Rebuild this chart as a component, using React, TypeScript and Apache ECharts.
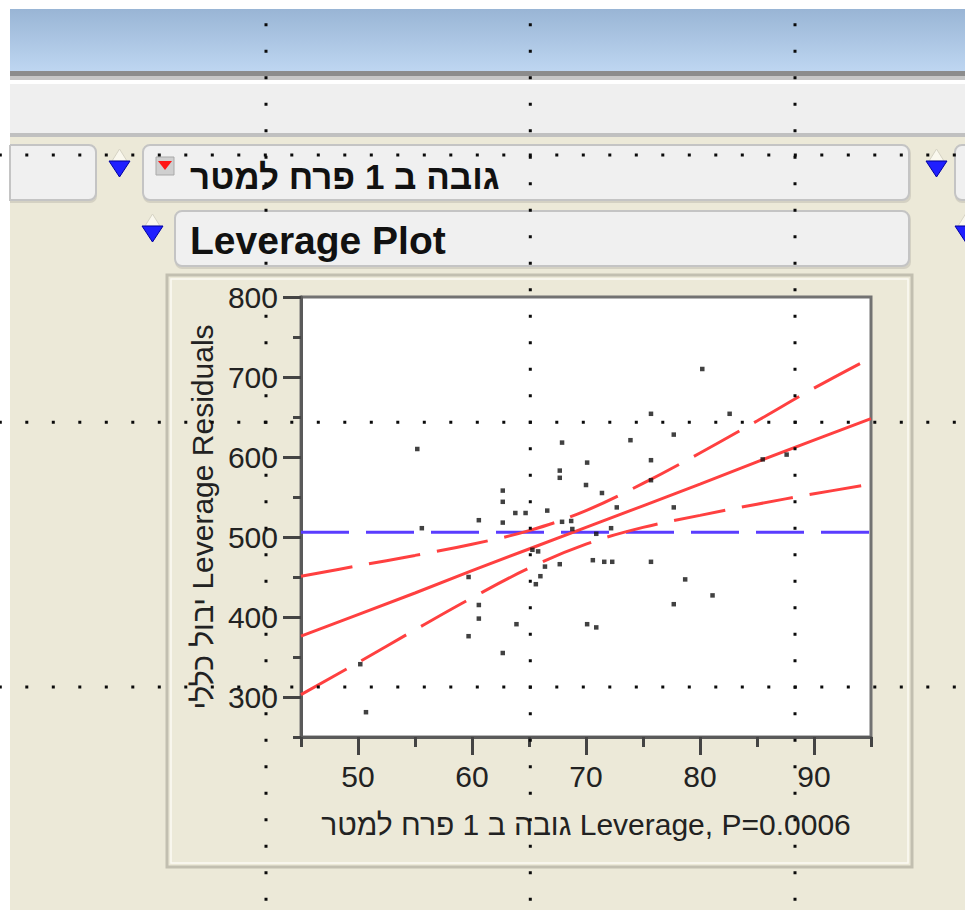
import React, { useEffect, useRef } from 'react';
import * as echarts from 'echarts';

// ---- data ----
const POINT_X = [55.2, 55.6, 50.2, 50.7, 59.7, 59.7, 60.6, 60.6, 60.6, 62.7, 62.7, 62.7, 62.7, 63.8, 63.9, 64.7, 65.3, 65.8, 65.6, 66.0, 66.4, 66.6, 67.7, 67.7, 67.7, 67.9, 67.9, 68.7, 68.8, 70.0, 70.1, 70.1, 70.9, 70.6, 70.9, 71.4, 71.6, 72.3, 72.2, 72.7, 73.9, 75.7, 75.7, 75.7, 75.7, 77.7, 77.7, 77.7, 78.7, 80.2, 81.1, 82.6, 85.5, 87.6];
const POINT_Y = [610, 511, 341, 281, 450, 376, 521, 415, 398, 558, 544, 518, 355, 530, 391, 530, 484, 482, 441, 451, 463, 533, 466, 583, 574, 618, 519, 520, 510, 565, 593, 391, 387, 471, 504, 555, 469, 469, 511, 537, 621, 654, 596, 571, 469, 628, 537, 416, 447, 710, 427, 654, 597, 603];

const CURVE_X = [45, 50, 55, 60, 65, 70, 75, 80, 85, 90, 95];
const FIT_Y = [376, 403, 430, 458, 485, 512, 539, 566, 594, 621, 648];
const UPPER_Y = [451, 464, 477, 491, 508, 533, 567, 605, 645, 686, 724];
const LOWER_Y = [303, 343, 384, 424, 461, 491, 512, 527, 541, 554, 566];
const MEAN_X = [45, 95];
const MEAN_Y = [506, 506];

const X_MAJOR = [50, 60, 70, 80, 90];
const X_MINOR = [45, 55, 65, 75, 85, 95];
const Y_MAJOR = [300, 400, 500, 600, 700, 800];
const Y_MINOR = [250, 350, 450, 550, 650, 750];

const HEADER_TITLE = 'גובה ב 1 פרח למטר';
const PLOT_TITLE = 'Leverage Plot';
const X_TITLE = 'גובה ב 1 פרח למטר Leverage, P=0.0006';
const Y_TITLE = 'יבול כללי Leverage Residuals';

const FONT = '"Liberation Sans", Arial, sans-serif';

const pairs = (xs: number[], ys: number[]) => xs.map((x, i) => [x, ys[i]]);

function tri(cx: number, top: number, w: number, h: number, z = 5) {
  return [
    {
      type: 'polygon', z,
      shape: { points: [[cx - w / 2 + 3, top], [cx + w / 2 - 3, top], [cx, top - 12]] },
      style: { fill: '#faf8ee', stroke: '#d6d3c4', lineWidth: 1 },
    },
    {
      type: 'polygon', z: z + 1,
      shape: { points: [[cx - w / 2, top], [cx + w / 2, top], [cx, top + h]] },
      style: { fill: '#1f1fff', stroke: '#0000a0', lineWidth: 1 },
    },
  ];
}

function dotted(): any[] {
  const els: any[] = [];
  const step = 26.5;
  const style = { stroke: '#0a0a0a', lineWidth: 3, lineDash: [3, step - 3] };
  [266, 530.3, 795].forEach((x) => {
    const y0 = 422.3 - 1.5 - step * 16;
    els.push({ type: 'line', z: 200, shape: { x1: x, y1: y0, x2: x, y2: 916 }, style });
  });
  [155, 422.3, 687].forEach((y) => {
    const x0 = 530.3 - 1.5 - step * 20;
    els.push({ type: 'line', z: 200, shape: { x1: x0, y1: y, x2: 965, y2: y }, style });
  });
  return els;
}

export default function App() {
  const ref = useRef<HTMLDivElement>(null);
  useEffect(() => {
    document.body.style.margin = '0';
    const chart = echarts.init(ref.current!, null, { renderer: 'svg' });
    const bg: any[] = [
      { type: 'rect', z: -20, shape: { x: 0, y: 0, width: 965, height: 916 }, style: { fill: '#ffffff' } },
      {
        type: 'rect', z: -19, shape: { x: 10, y: 9, width: 955, height: 62 },
        style: { fill: { type: 'linear', x: 0, y: 0, x2: 0, y2: 1, colorStops: [{ offset: 0, color: '#99b5d5' }, { offset: 1, color: '#bed6f1' }] } },
      },
      { type: 'rect', z: -19, shape: { x: 10, y: 71, width: 955, height: 5 }, style: { fill: '#8c8c8c' } },
      { type: 'rect', z: -19, shape: { x: 10, y: 76, width: 955, height: 4 }, style: { fill: '#c6c6c6' } },
      { type: 'rect', z: -19, shape: { x: 10, y: 80, width: 955, height: 4 }, style: { fill: '#ffffff' } },
      { type: 'rect', z: -19, shape: { x: 10, y: 84, width: 955, height: 49 }, style: { fill: '#efefef' } },
      { type: 'rect', z: -19, shape: { x: 10, y: 133, width: 955, height: 4 }, style: { fill: '#c0c0c0' } },
      { type: 'rect', z: -19, shape: { x: 10, y: 137, width: 955, height: 773 }, style: { fill: '#ece9d8' } },
      // header boxes
      { type: 'rect', z: -15, shape: { x: 10, y: 146, width: 87, height: 57, r: [0, 7, 7, 0] }, style: { fill: '#d4d1c3' } },
      { type: 'rect', z: -14, shape: { x: 10, y: 145, width: 86, height: 55, r: [0, 7, 7, 0] }, style: { fill: '#f0f0f0', stroke: '#c4c4c4', lineWidth: 2 } },
      { type: 'rect', z: -15, shape: { x: 143, y: 146, width: 768, height: 57, r: 7 }, style: { fill: '#d4d1c3' } },
      { type: 'rect', z: -14, shape: { x: 143, y: 145, width: 766, height: 55, r: 7 }, style: { fill: '#f0f0f0', stroke: '#c4c4c4', lineWidth: 2 } },
      { type: 'rect', z: -15, shape: { x: 955, y: 146, width: 30, height: 57, r: 7 }, style: { fill: '#d4d1c3' } },
      { type: 'rect', z: -14, shape: { x: 955, y: 145, width: 30, height: 55, r: 7 }, style: { fill: '#f0f0f0', stroke: '#c4c4c4', lineWidth: 2 } },
      { type: 'rect', z: -15, shape: { x: 175, y: 212, width: 736, height: 57, r: 7 }, style: { fill: '#d4d1c3' } },
      { type: 'rect', z: -14, shape: { x: 175, y: 211, width: 734, height: 55, r: 7 }, style: { fill: '#f0f0f0', stroke: '#c4c4c4', lineWidth: 2 } },
      // red menu icon
      { type: 'rect', z: -10, shape: { x: 156, y: 157, width: 18, height: 18 }, style: { fill: '#cfcfcf', stroke: '#a9a9a9', lineWidth: 1 } },
      { type: 'polygon', z: -9, shape: { points: [[158, 161], [172, 161], [165, 170]] }, style: { fill: '#ff1515' } },
      // titles
      {
        type: 'text', z: -8, x: 190, y: 176,
        style: { text: HEADER_TITLE, fill: '#111', fontSize: 35, fontWeight: 'bold', fontFamily: FONT, align: 'left', verticalAlign: 'middle' },
      },
      {
        type: 'text', z: -8, x: 190, y: 240,
        style: { text: PLOT_TITLE, fill: '#111', fontSize: 39, fontWeight: 'bold', fontFamily: FONT, align: 'left', verticalAlign: 'middle' },
      },
      // outer plot panel
      { type: 'rect', z: -12, shape: { x: 167, y: 275, width: 745, height: 592 }, style: { fill: '#ece9d8', stroke: '#c2bfb0', lineWidth: 3 } },
      { type: 'rect', z: -11, shape: { x: 171, y: 279, width: 737, height: 584 }, style: { fill: 'none', stroke: '#fbfaf3', lineWidth: 1.5 } },
      ...tri(119.5, 161, 21, 16, -7),
      ...tri(936.5, 161, 21, 16, -7),
      ...tri(152.5, 226, 21, 16, -7),
      ...tri(965.5, 226, 21, 16, -7),
    ];

    const tickFmt = (v: number) => String(v);

    const option: any = {
      animation: false,
      textStyle: { fontFamily: FONT },
      graphic: { elements: [...bg, ...dotted()] },
      grid: { left: 301, top: 297, width: 570, height: 440, show: true, backgroundColor: '#ffffff', borderColor: '#727272', borderWidth: 3, z: 0 },
      xAxis: [
        {
          type: 'value', min: 45, max: 95, interval: 5, position: 'bottom',
          axisLine: { show: true, onZero: false, lineStyle: { color: '#5a5a5a', width: 3 } },
          axisTick: { show: true, customValues: X_MAJOR, length: 18, lineStyle: { color: '#444', width: 3 } },
          axisLabel: { customValues: X_MAJOR, formatter: tickFmt, fontSize: 30, color: '#222', margin: 24, fontFamily: FONT },
          splitLine: { show: false },
          name: X_TITLE, nameLocation: 'middle', nameGap: 72,
          nameTextStyle: { fontSize: 30, color: '#222', fontFamily: FONT },
        },
        {
          type: 'value', min: 45, max: 95, interval: 5, position: 'bottom',
          axisLine: { show: false },
          axisTick: { show: true, customValues: X_MINOR, length: 10, lineStyle: { color: '#444', width: 3 } },
          axisLabel: { show: false },
          splitLine: { show: false },
        },
      ],
      yAxis: [
        {
          type: 'value', min: 250, max: 800, interval: 50, position: 'left',
          axisLine: { show: true, onZero: false, lineStyle: { color: '#5a5a5a', width: 3 } },
          axisTick: { show: true, customValues: Y_MAJOR, length: 18, lineStyle: { color: '#444', width: 3 } },
          axisLabel: { customValues: Y_MAJOR, formatter: tickFmt, fontSize: 30, color: '#222', margin: 23, fontFamily: FONT },
          splitLine: { show: false },
          name: Y_TITLE, nameLocation: 'middle', nameGap: 82, nameRotate: 90,
          nameTextStyle: { fontSize: 30, color: '#222', fontFamily: FONT },
        },
        {
          type: 'value', min: 250, max: 800, interval: 50, position: 'left',
          axisLine: { show: false },
          axisTick: { show: true, customValues: Y_MINOR, length: 8, lineStyle: { color: '#444', width: 3 } },
          axisLabel: { show: false },
          splitLine: { show: false },
        },
      ],
      series: [
        {
          type: 'line', data: pairs(MEAN_X, MEAN_Y), symbol: 'none', silent: true, z: 3,
          lineStyle: { color: '#5a3cff', width: 3, type: [48, 17] },
        },
        {
          type: 'line', data: pairs(CURVE_X, UPPER_Y), symbol: 'none', smooth: 0.4, silent: true, z: 4,
          lineStyle: { color: '#ff4040', width: 3, type: [52, 17] },
        },
        {
          type: 'line', data: pairs(CURVE_X, LOWER_Y), symbol: 'none', smooth: 0.4, silent: true, z: 4,
          lineStyle: { color: '#ff4040', width: 3, type: [52, 17] },
        },
        {
          type: 'line', data: pairs(CURVE_X, FIT_Y), symbol: 'none', silent: true, z: 4,
          lineStyle: { color: '#ff4040', width: 3 },
        },
        {
          type: 'scatter', data: pairs(POINT_X, POINT_Y), symbol: 'rect', symbolSize: 4.5, z: 5,
          itemStyle: { color: '#111' },
        },
      ],
    };
    chart.setOption(option);
    return () => chart.dispose();
  }, []);
  return <div ref={ref} style={{ width: 965, height: 916 }} />;
}
